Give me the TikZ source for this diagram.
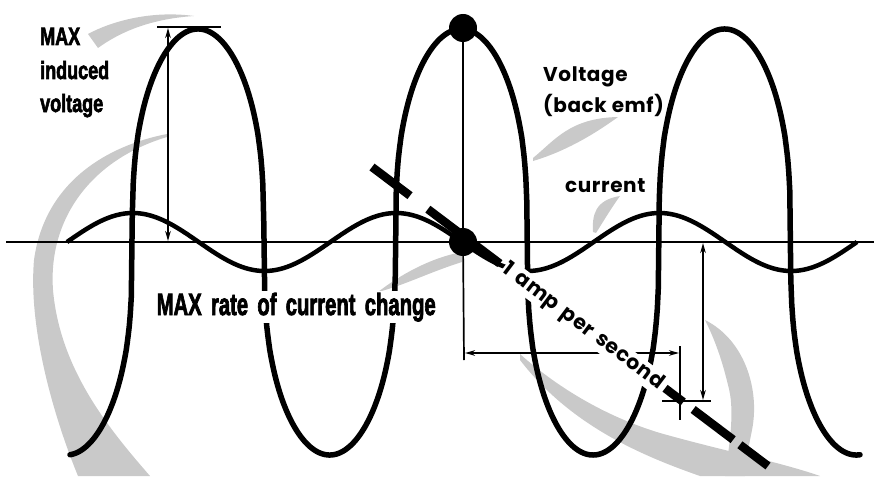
\documentclass[tikz,border=0pt]{standalone}
\usepackage{fontspec}
\usepackage{graphicx}
\setmainfont{Liberation Sans}
\newfontfamily\condfont[BoldFeatures={FakeBold=3}]{Liberation Sans}
\newfontfamily\geofont[LetterSpace=3]{Poppins Bold}
\newcommand{\cnd}[2]{\scalebox{#1}[1]{#2}}
\usetikzlibrary{arrows.meta,calc}
\begin{document}
\begin{tikzpicture}[x=1pt,y=-1pt,
  declare function={vc(\x)=cos(1.36711*(\x-198));
                    vf(\x)=vc(\x)/(abs(vc(\x))+0.00001)*pow(abs(vc(\x))+0.00001,0.35);},
  swoosh/.style={fill=gray!42,draw=none},
  volt/.style={line width=5.5pt,line join=round,line cap=round},
  curr/.style={line width=4.5pt,line cap=butt},
  axisline/.style={line width=2.6pt},
  thindim/.style={line width=1.7pt},
  dimarrow/.style={line width=1.7pt,{Stealth[length=10pt,width=5.5pt]}-{Stealth[length=10pt,width=5.5pt]}},
  tdash/.style={line width=8.5pt,line cap=butt},
  bigdot/.style={circle,fill=black,inner sep=0pt,minimum size=28pt},
  condtxtA/.style={font=\condfont\bfseries\fontsize{25}{30}\selectfont,inner sep=0pt,anchor=base west},
  condtxtB/.style={font=\condfont\bfseries\fontsize{30.7}{34}\selectfont,inner sep=1.5pt,anchor=base west,fill=white},
  geotxt/.style={font=\geofont\fontsize{20}{26}\selectfont,inner sep=0pt,anchor=base west}
]
\useasboundingbox (0,0) rectangle (874,476);

% stippled gray swooshes
\fill[swoosh] (88,34) .. controls (110,22) and (150,10) .. (194,16) .. controls (150,19) and (120,32) .. (98,48) -- cycle;
\fill[swoosh] (167,134) .. controls (110,145) and (45,180) .. (34,260) .. controls (28,330) and (55,420) .. (78,476) -- (150,476) .. controls (110,430) and (60,370) .. (53,290) .. controls (48,220) and (90,160) .. (167,137) -- cycle;
\fill[swoosh] (533,158) .. controls (555,140) and (570,118) .. (618,117) .. controls (600,130) and (570,150) .. (533,161) -- cycle;
\fill[swoosh] (593,232) .. controls (592,215) and (595,200) .. (620,196) .. controls (610,210) and (603,222) .. (596,233) -- cycle;
\fill[swoosh] (462,252) .. controls (430,258) and (400,275) .. (378,292) .. controls (405,285) and (430,272) .. (462,262) -- cycle;
\fill[swoosh] (520,354) .. controls (560,390) and (610,418) .. (660,433) .. controls (720,450) and (780,462) .. (820,476) -- (700,476) .. controls (640,455) and (570,425) .. (520,360) -- cycle;
\fill[swoosh] (705,320) .. controls (745,340) and (760,390) .. (752,430) .. controls (748,450) and (745,465) .. (745,476) -- (725,476) .. controls (730,440) and (735,410) .. (728,385) .. controls (722,360) and (715,340) .. (705,320) -- cycle;

% axis
\coordinate (axL) at (6,242);
\coordinate (axR) at (874,242);
\draw[axisline] (axL) -- (axR);

% current and voltage
\draw[curr] plot[domain=67:857,samples=300] (\x,{242-29*sin(1.36711*(\x-67))});
\draw[volt] plot[domain=70:860,samples=800] (\x,{242-213*vf(\x)});

% MAX induced voltage marker
\coordinate (barL) at (157,27);
\coordinate (barR) at (221,27);
\draw[line width=2.6pt] (barL) -- (barR);
\coordinate (vt) at (168,28);
\coordinate (vb) at (168,241);
\draw[dimarrow] (vt) -- (vb);

% dots and vertical line
\node[bigdot] (dtop) at (463,28) {};
\node[bigdot] (dmid) at (463,242) {};
\coordinate (vlow) at (464,360);
\draw[thindim] (dtop) -- (dmid);
\draw[thindim] (dmid.center) -- (vlow);

% horizontal dimension
\coordinate (hL) at (465,353);
\coordinate (hR) at (679,353);
\draw[dimarrow] (hL) -- (hR);
\coordinate (tkT) at (680,346);
\coordinate (tkB) at (680,420);
\draw[thindim] (tkT) -- (tkB);

% vertical dimension on right
\coordinate (rT) at (703,243);
\coordinate (rB) at (703,400);
\draw[dimarrow] (rT) -- (rB);
\coordinate (t2L) at (662,401);
\coordinate (t2R) at (711,401);
\draw[thindim] (t2L) -- (t2R);

% thick dashed tangent
\coordinate (A) at (372,167);
\coordinate (B) at (768,466);
\foreach \a/\b in {0/0.096, 0.141/0.323, 0.74/0.786, 0.811/0.912, 0.929/1}
  \draw[tdash] ($(A)!\a!(B)$) -- ($(A)!\b!(B)$);

% texts
\node[condtxtA] (t1) at (40,45) {\cnd{0.72}{MAX}};
\node[condtxtA] (t2) at (40,79) {\cnd{0.72}{induced}};
\node[condtxtA] (t3) at (40,112) {\cnd{0.72}{voltage}};
\node[condtxtB] (t4) at (155,315) {\cnd{0.66}{MAX\hspace{14pt}rate\hspace{14pt}of\hspace{14pt}current\hspace{14pt}change}};
\node[geotxt] (t5) at (543,82) {Voltage};
\node[geotxt] (t6) at (543,112) {(back\hspace{5pt}emf)};
\node[geotxt] (t7) at (565,192) {current};
\node[font=\geofont\fontsize{20.5}{26}\selectfont,fill=white,inner sep=1pt,rotate=-37] (t8) at (583,327) {1\hspace{7pt}amp\hspace{7pt}per\hspace{7pt}second};
\end{tikzpicture}
\end{document}
